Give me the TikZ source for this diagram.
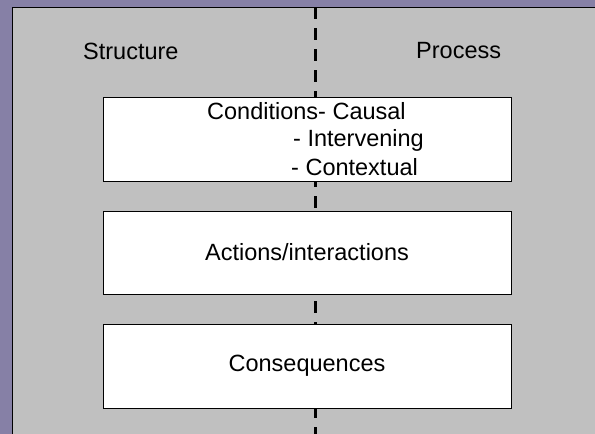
\documentclass[tikz,border=0pt]{standalone}
\usepackage{fontspec}
\setmainfont{Liberation Sans}
\definecolor{frame}{RGB}{134,128,166}
\definecolor{panel}{RGB}{192,192,192}
\tikzset{
  stagebox/.style={draw=black, fill=white, line width=1pt, inner sep=0pt, outer sep=0pt,
    minimum width=408pt, font=\fontsize{23.5}{27}\selectfont},
  heading/.style={inner sep=0pt, anchor=base west, font=\fontsize{23.5}{27}\selectfont},
  divider/.style={line width=3pt, dash pattern=on 12pt off 9pt},
}
\begin{document}
\begin{tikzpicture}[x=1pt, y=-1pt]
  \useasboundingbox (0,0) rectangle (595,434);
  % background and grey panel
  \fill[frame] (0,0) rectangle (595,434);
  \fill[panel] (12,7) rectangle (597,436);
  \draw[line width=1pt] (12,436) -- (12,7) -- (597,7);

  % column headings
  \node[heading] (structure) at (83,59) {Structure};
  \node[heading] (process) at (416,58) {Process};

  % vertical divider between structure and process
  \coordinate (divtop) at (315,7);
  \coordinate (divbot) at (315,436);
  \draw[divider] (divtop) -- (divbot);

  % the three stages
  \node[stagebox, minimum height=84pt] (conditions) at (307,139) {};
  \node[heading] (cond1) at (207,119) {Conditions- Causal};
  \node[heading] (cond2) at (293,146) {- Intervening};
  \node[heading] (cond3) at (291,175) {- Contextual};

  \node[stagebox, minimum height=83pt] (actions) at (307,252.5) {Actions/interactions};
  \node[stagebox, minimum height=84pt] (consequences) at (307,366) {Consequences};
\end{tikzpicture}
\end{document}
